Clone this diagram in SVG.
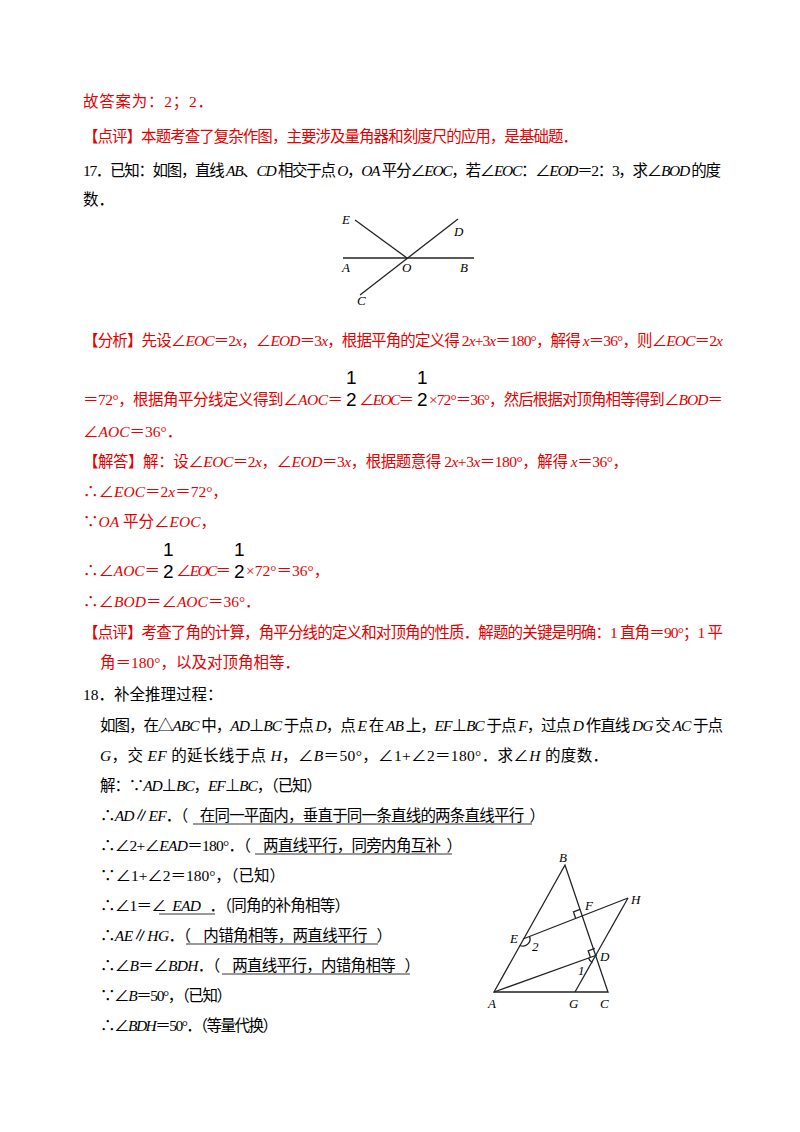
<svg xmlns="http://www.w3.org/2000/svg" width="800" height="1132" viewBox="0 0 800 1132">
<style>
text{font-family:"Liberation Serif","Noto Sans CJK SC",serif;font-size:15.5px;fill:#000}
.r{fill:#e60000}
.i{font-style:italic}
.fr{font-family:"Liberation Sans",sans-serif;font-size:19px}
.l{stroke:#000;stroke-width:0.8;fill:none}
.f{stroke:#222;stroke-width:1.3;fill:none}
.lb{font-style:italic;font-size:13px}
</style>
<rect width="800" height="1132" fill="#fff"/>
<text class="r" x="83" y="107" textLength="130" lengthAdjust="spacing">故答案为：2；2．</text>
<text class="r" x="83" y="142" textLength="495" lengthAdjust="spacing">【点评】本题考查了复杂作图，主要涉及量角器和刻度尺的应用，是基础题．</text>
<text x="83" y="176" textLength="638" lengthAdjust="spacing">17．已知：如图，直线 <tspan class="i">AB</tspan>、<tspan class="i">CD</tspan> 相交于点 <tspan class="i">O</tspan>，<tspan class="i">OA</tspan> 平分∠<tspan class="i">EOC</tspan>，若∠<tspan class="i">EOC</tspan>：∠<tspan class="i">EOD</tspan>＝2：3，求∠<tspan class="i">BOD</tspan> 的度</text>
<text x="83" y="205">数．</text>
<g id="fig1">
<line class="f" x1="343" y1="258" x2="474" y2="258"/>
<line class="f" x1="355" y1="220" x2="407" y2="258"/>
<line class="f" x1="458" y1="219" x2="360" y2="295"/>
<text class="lb" x="342" y="224">E</text>
<text class="lb" x="454" y="236">D</text>
<text class="lb" x="342" y="272">A</text>
<text class="lb" x="402" y="272">O</text>
<text class="lb" x="460" y="272">B</text>
<text class="lb" x="357" y="305">C</text>
</g>
<text class="r" x="83" y="346" textLength="640" lengthAdjust="spacing">【分析】先设∠<tspan class="i">EOC</tspan>＝2<tspan class="i">x</tspan>，∠<tspan class="i">EOD</tspan>＝3<tspan class="i">x</tspan>，根据平角的定义得 2<tspan class="i">x</tspan>+3<tspan class="i">x</tspan>＝180°，解得 <tspan class="i">x</tspan>＝36°，则∠<tspan class="i">EOC</tspan>＝2<tspan class="i">x</tspan></text>
<text class="r" x="83" y="405" textLength="260" lengthAdjust="spacing">＝72°，根据角平分线定义得到∠<tspan class="i">AOC</tspan>＝</text>
<text class="fr" x="346" y="384">1</text><text class="fr" x="346" y="406">2</text>
<text class="r" x="359" y="405" textLength="55" lengthAdjust="spacing">∠<tspan class="i">EOC</tspan>＝</text>
<text class="fr" x="417" y="384">1</text><text class="fr" x="417" y="406">2</text>
<text class="r" x="429" y="405" textLength="294" lengthAdjust="spacing">×72°＝36°，然后根据对顶角相等得到∠<tspan class="i">BOD</tspan>＝</text>
<text class="r" x="83" y="437">∠<tspan class="i">AOC</tspan>＝36°．</text>
<text class="r" x="83" y="467" textLength="545" lengthAdjust="spacing">【解答】解：设∠<tspan class="i">EOC</tspan>＝2<tspan class="i">x</tspan>，∠<tspan class="i">EOD</tspan>＝3<tspan class="i">x</tspan>，根据题意得 2<tspan class="i">x</tspan>+3<tspan class="i">x</tspan>＝180°，解得 <tspan class="i">x</tspan>＝36°，</text>
<text class="r" x="83" y="497">∴∠<tspan class="i">EOC</tspan>＝2<tspan class="i">x</tspan>＝72°，</text>
<text class="r" x="83" y="527">∵<tspan class="i">OA</tspan> 平分∠<tspan class="i">EOC</tspan>，</text>
<text class="fr" x="163" y="556">1</text><text class="fr" x="163" y="578">2</text>
<text class="r" x="83" y="576" textLength="77" lengthAdjust="spacing">∴∠<tspan class="i">AOC</tspan>＝</text>
<text class="r" x="176" y="576" textLength="55" lengthAdjust="spacing">∠<tspan class="i">EOC</tspan>＝</text>
<text class="fr" x="234" y="556">1</text><text class="fr" x="234" y="578">2</text>
<text class="r" x="246" y="576">×72°＝36°，</text>
<text class="r" x="83" y="607">∴∠<tspan class="i">BOD</tspan>＝∠<tspan class="i">AOC</tspan>＝36°．</text>
<text class="r" x="83" y="638" textLength="640" lengthAdjust="spacing">【点评】考查了角的计算，角平分线的定义和对顶角的性质．解题的关键是明确：1 直角＝90°；1 平</text>
<text class="r" x="100" y="668">角＝180°，以及对顶角相等．</text>
<text x="83" y="700">18．补全推理过程：</text>
<text x="100" y="731" textLength="623" lengthAdjust="spacing">如图，在△<tspan class="i">ABC</tspan> 中，<tspan class="i">AD</tspan>⊥<tspan class="i">BC</tspan> 于点 <tspan class="i">D</tspan>，点 <tspan class="i">E</tspan> 在 <tspan class="i">AB</tspan> 上，<tspan class="i">EF</tspan>⊥<tspan class="i">BC</tspan> 于点 <tspan class="i">F</tspan>，过点 <tspan class="i">D</tspan> 作直线 <tspan class="i">DG</tspan> 交 <tspan class="i">AC</tspan> 于点</text>
<text x="100" y="761" textLength="508" lengthAdjust="spacing"><tspan class="i">G</tspan>，交 <tspan class="i">EF</tspan> 的延长线于点 <tspan class="i">H</tspan>，∠<tspan class="i">B</tspan>＝50°，∠1+∠2＝180°．求∠<tspan class="i">H</tspan> 的度数．</text>
<text x="100" y="791" textLength="222" lengthAdjust="spacing">解：∵<tspan class="i">AD</tspan>⊥<tspan class="i">BC</tspan>，<tspan class="i">EF</tspan>⊥<tspan class="i">BC</tspan>，（已知）</text>
<text x="100" y="821" xml:space="preserve" textLength="445" lengthAdjust="spacing">∴<tspan class="i">AD</tspan>∥<tspan class="i">EF</tspan>．（    在同一平面内，垂直于同一条直线的两条直线平行  ）</text>
<line class="l" x1="193" y1="824" x2="532" y2="824"/>
<text x="100" y="851" xml:space="preserve" textLength="362" lengthAdjust="spacing">∴∠2+∠<tspan class="i">EAD</tspan>＝180°．（    两直线平行，同旁内角互补  ）</text>
<line class="l" x1="255" y1="854" x2="452" y2="854"/>
<text x="100" y="881" textLength="185" lengthAdjust="spacing">∵∠1+∠2＝180°，（已知）</text>
<text x="100" y="911" xml:space="preserve" textLength="250" lengthAdjust="spacing">∴∠1＝∠  <tspan class="i">EAD</tspan>   ．（同角的补角相等）</text>
<line class="l" x1="159" y1="914" x2="215" y2="914"/>
<text x="100" y="941" xml:space="preserve" textLength="292" lengthAdjust="spacing">∴<tspan class="i">AE</tspan>∥<tspan class="i">HG</tspan>．（    内错角相等，两直线平行   ）</text>
<line class="l" x1="186" y1="944" x2="378" y2="944"/>
<text x="100" y="971" xml:space="preserve" textLength="320" lengthAdjust="spacing">∴∠<tspan class="i">B</tspan>＝∠<tspan class="i">BDH</tspan>．（    两直线平行，内错角相等   ）</text>
<line class="l" x1="222" y1="974" x2="410" y2="974"/>
<text x="100" y="1001" textLength="132" lengthAdjust="spacing">∵∠<tspan class="i">B</tspan>＝50°，（已知）</text>
<text x="100" y="1031" textLength="178" lengthAdjust="spacing">∴∠<tspan class="i">BDH</tspan>＝50°．（等量代换）</text>
<g id="fig2">
<polygon class="f" points="565,865 494,992 608,992"/>
<line class="f" x1="494" y1="992" x2="597" y2="955"/>
<line class="f" x1="523" y1="939" x2="628" y2="898"/>
<line class="f" x1="575" y1="992" x2="628" y2="898"/>
<path class="f" d="M580,909.4 L573.5,911.9 L575.7,918.5" stroke-width="1"/>
<path class="f" d="M594.8,948.4 L588.2,950.8 L590.4,957.4" stroke-width="1"/>
<path class="f" d="M519.6,945.2 A7,7 0 0 0 529.5,936.5" stroke-width="1"/>
<path class="f" d="M588.5,958 A9,9 0 0 0 592.4,962.7" stroke-width="1"/>
<text class="lb" x="559" y="862">B</text>
<text class="lb" x="585" y="910">F</text>
<text class="lb" x="631" y="904">H</text>
<text class="lb" x="510" y="943">E</text>
<text class="lb" x="532" y="951" font-style="normal">2</text>
<text class="lb" x="600" y="961">D</text>
<text class="lb" x="578" y="975" font-style="normal">1</text>
<text class="lb" x="488" y="1008">A</text>
<text class="lb" x="569" y="1008">G</text>
<text class="lb" x="600" y="1008">C</text>
</g>
</svg>
